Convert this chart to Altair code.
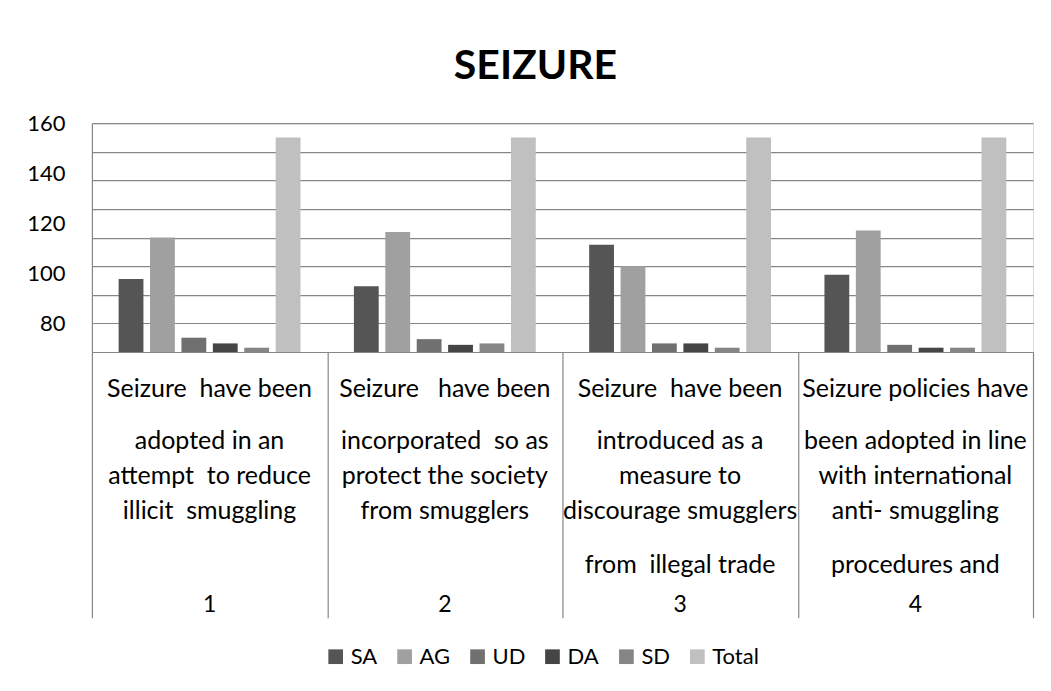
import json
import altair as alt
import pandas as pd

# ---------------- data ----------------
categories = ["1", "2", "3", "4"]
series = ["SA", "AG", "UD", "DA", "SD", "Total"]
colors = ["#555555", "#a0a0a0", "#707070", "#454545", "#858585", "#c0c0c0"]

sa = [51, 46, 75, 54]
ag = [80, 84, 60, 85]
ud = [10, 9, 6, 5]
da = [6, 5, 6, 3]
sd = [3, 6, 3, 3]
total = [150, 150, 150, 150]

label_first = ["Seizure\u00a0 have been", "Seizure\u00a0\u00a0 have been", "Seizure\u00a0 have been", "Seizure policies have"]
label_middle = [
    ["adopted in an", "attempt\u00a0 to reduce", "illicit\u00a0 smuggling"],
    ["incorporated\u00a0 so as", "protect the society", "from smugglers"],
    ["introduced as a", "measure to", "discourage smugglers"],
    ["been adopted in line", "with international", "anti- smuggling"],
]
label_last = ["", "", "from\u00a0 illegal trade", "procedures and"]

grid_values = [0, 20, 40, 60, 80, 100, 120, 140, 160]
y_tick_labels = [160, 140, 120, 100, 80]
label_scale_domain = [68.4, 160]

GRAY = "#878787"
FONT = "Lato"

rows = []
vals = {"SA": sa, "AG": ag, "UD": ud, "DA": da, "SD": sd, "Total": total}
for s in series:
    for c, v in zip(categories, vals[s]):
        rows.append({"cat": c, "series": s, "value": v})
df = pd.DataFrame(rows)
cat_df = pd.DataFrame({"cat": categories})
ylab_df = pd.DataFrame({"v": y_tick_labels})

xscale = alt.Scale(type="band", paddingInner=0, paddingOuter=0)


def pick(arr):
    return json.dumps(arr) + "[indexof(" + json.dumps(categories) + ", datum.value)]"


bars = alt.Chart(df).mark_bar().encode(
    x=alt.X("cat:N", sort=categories, scale=xscale,
            axis=alt.Axis(title=None, orient="bottom", labels=False, ticks=True,
                          tickBand="extent", tickSize=266, tickColor=GRAY, tickWidth=1.2,
                          domain=True, domainColor=GRAY, domainWidth=1.2, grid=False)),
    xOffset=alt.XOffset("series:N", sort=series,
                        scale=alt.Scale(paddingInner=0.21, paddingOuter=0.85)),
    y=alt.Y("value:Q", scale=alt.Scale(domain=[0, 160], nice=False, zero=True),
            axis=alt.Axis(title=None, orient="right", values=grid_values, labels=False,
                          ticks=False, domain=False, grid=True, gridColor=GRAY, gridWidth=1.2)),
    color=alt.Color("series:N", sort=series,
                    scale=alt.Scale(domain=series, range=colors),
                    legend=alt.Legend(title=None, orient="none", legendX=233, legendY=523,
                                      direction="horizontal", symbolType="square",
                                      symbolSize=216, symbolStrokeWidth=0,
                                      labelFontSize=22, labelFont=FONT, labelColor="black",
                                      columnPadding=16, labelOffset=4)),
)


def label_layer(axis):
    return alt.Chart(cat_df).mark_point(opacity=0).encode(
        x=alt.X("cat:N", sort=categories, scale=xscale, axis=axis)
    )


common = dict(title=None, orient="bottom", ticks=False, domain=False, grid=False,
              labelAngle=0, labelFont=FONT, labelColor="black", labelLimit=0,
              labelOverlap=False, labelBaseline="alphabetic", labelAlign="center")

line1 = label_layer(alt.Axis(labelExpr=pick(label_first), labelPadding=45,
                             labelFontSize=25, **common))
line2 = label_layer(alt.Axis(labelExpr=pick(label_middle), labelPadding=97,
                             labelLineHeight=35, labelFontSize=25, **common))
line3 = label_layer(alt.Axis(labelExpr=pick(label_last), labelPadding=221,
                             labelFontSize=25, **common))
nums = label_layer(alt.Axis(labelPadding=260, labelFontSize=23, **common))

ylab = alt.Chart(ylab_df).mark_point(opacity=0).encode(
    y=alt.Y("v:Q", scale=alt.Scale(domain=label_scale_domain, nice=False, zero=False),
            axis=alt.Axis(title=None, orient="left", values=y_tick_labels, ticks=False,
                          grid=False, domain=True, domainColor=GRAY, domainWidth=1.2,
                          labelPadding=27, labelFontSize=22, labelFont=FONT,
                          labelColor="black", format="d"))
)

chart = alt.layer(bars, ylab, line1, line2, line3, nums).resolve_scale(
    y="independent"
).resolve_axis(x="independent", y="independent").properties(
    width=942, height=229,
    title=alt.TitleParams("SEIZURE", fontSize=41, font=FONT, fontWeight="bold",
                          anchor="middle", frame="group", dx=-27, dy=41, offset=33,
                          baseline="alphabetic", color="black"),
    autosize=alt.AutoSizeParams(type="none"),
    padding={"left": 84, "top": 115, "right": 10, "bottom": 330},
).configure_view(stroke=None).configure(background="white")

chart.save("out.html", embed_options={"renderer": "svg", "actions": False})
